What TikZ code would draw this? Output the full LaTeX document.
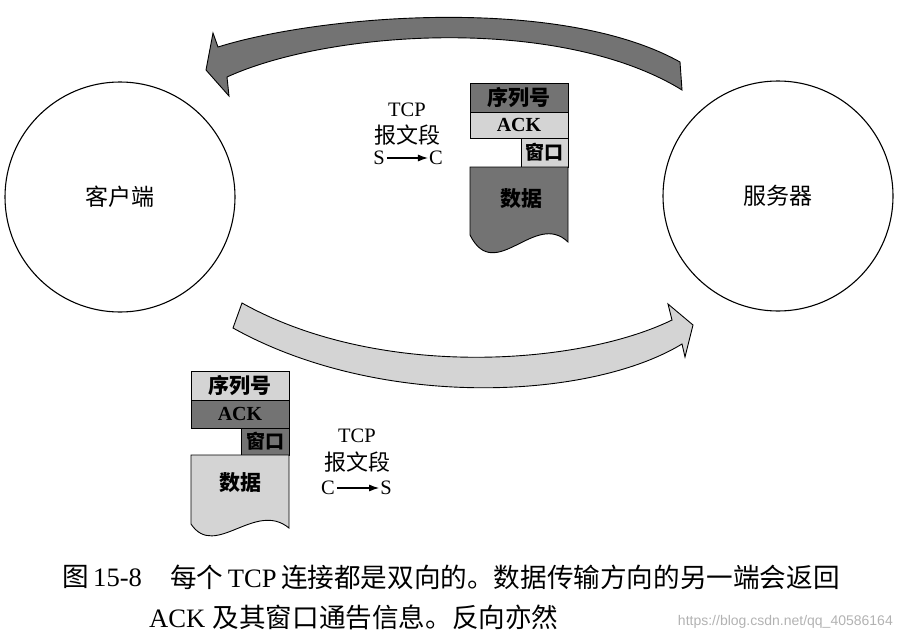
\documentclass[tikz,border=0pt]{standalone}
\usepackage{fontspec}
\setmainfont{Liberation Serif}
\newfontfamily\cjk{Noto Sans CJK SC}
\newfontfamily\wmfont{Liberation Sans}
\usetikzlibrary{arrows.meta}
\begin{document}
\begin{tikzpicture}[x=1pt,y=-1pt,
  darkfill/.style={fill=black!55, draw=black, line width=0.9pt},
  lightfill/.style={fill=black!17, draw=black, line width=0.9pt},
  host/.style={circle, draw=black, line width=1.1pt, minimum size=230pt, inner sep=0pt, font=\cjk\fontsize{23}{23}\selectfont},
  fieldbox/.style={inner sep=0pt, outer sep=0pt, anchor=north west},
  zhbold/.style={font=\cjk\bfseries\fontsize{21}{21}\selectfont},
  enbold/.style={font=\bfseries\fontsize{20}{20}\selectfont},
  latin/.style={font=\fontsize{20.5}{20.5}\selectfont, inner sep=0pt},
  zhlabel/.style={font=\cjk\fontsize{22}{22}\selectfont, inner sep=0pt},
  caption/.style={font=\fontsize{26.6}{26.6}\selectfont, inner sep=0pt, anchor=west},
  dirarrow/.style={-{Latex[length=10pt,width=7pt]}, line width=1.1pt, shorten <=2pt, shorten >=1pt}
]
\useasboundingbox (0,0) rectangle (901,637);

% hosts
\node[host] (client) at (120,197) {客户端};
\node[host] (server) at (778,196) {服务器};

% top arrow (server -> client), dark
\path[darkfill] (680,62) .. controls (560,-5) and (320,15) .. (218,47)
  -- (213,33) -- (206,70) -- (229,96) -- (227,77)
  .. controls (330,30) and (560,15) .. (682,90) -- cycle;

% bottom arrow (client -> server), light
\path[lightfill] (242,303) .. controls (380,380) and (580,365) .. (672,320)
  -- (668,304) -- (693,325) -- (685,357) -- (682,344)
  .. controls (590,400) and (380,410) .. (233,328) -- cycle;

% top segment (S -> C)
\node[fieldbox, darkfill, minimum width=98pt, minimum height=29pt, zhbold] (seqA) at (470,83) {序列号};
\node[fieldbox, lightfill, minimum width=98pt, minimum height=26pt, enbold] (ackA) at (470,112) {ACK};
\node[fieldbox, lightfill, minimum width=47pt, minimum height=29pt, font=\cjk\bfseries\fontsize{19}{19}\selectfont] (winA) at (521,138) {窗口};
\path[darkfill] (470,167) -- (568,167) -- (568,242) .. controls (535,210) and (495,285) .. (470,235) -- cycle;
\node[zhbold, inner sep=0pt] (dataA) at (521,199) {数据};

\node[latin] (tcpA) at (407,110) {TCP};
\node[zhlabel] (segA) at (407,135) {报文段};
\node[latin] (sA) at (379,158) {S};
\node[latin] (cA) at (436,158) {C};
\draw[dirarrow] (sA) -- (cA);

% bottom segment (C -> S)
\node[fieldbox, lightfill, minimum width=98pt, minimum height=29pt, zhbold] (seqB) at (191,371) {序列号};
\node[fieldbox, darkfill, minimum width=98pt, minimum height=28pt, enbold] (ackB) at (191,400) {ACK};
\node[fieldbox, darkfill, minimum width=48pt, minimum height=27pt, font=\cjk\bfseries\fontsize{19}{19}\selectfont] (winB) at (241,428) {窗口};
\path[lightfill] (191,455) -- (289,455) -- (289,528) .. controls (255,500) and (215,560) .. (191,524) -- cycle;
\node[zhbold, inner sep=0pt] (dataB) at (240,483) {数据};

\node[latin] (tcpB) at (357,436) {TCP};
\node[zhlabel] (segB) at (357,462) {报文段};
\node[latin] (cB) at (328,488) {C};
\node[latin] (sB) at (386,488) {S};
\draw[dirarrow] (cB) -- (sB);

% caption
\node[caption] (figno) at (62,577) {{\cjk 图}\,15-8};
\node[caption] (cap1) at (170,577) {{\cjk 每个}\,TCP\,{\cjk 连接都是双向的。数据传输方向的另一端会返回}};
\node[caption] (cap2) at (149,617) {ACK\;{\cjk 及其窗口通告信息。反向亦然}};
\node[inner sep=0pt, anchor=east, text=black!30, font=\wmfont\fontsize{14}{14}\selectfont] (wm) at (893,622) {https://blog.csdn.net/qq\_40586164};
\end{tikzpicture}
\end{document}
